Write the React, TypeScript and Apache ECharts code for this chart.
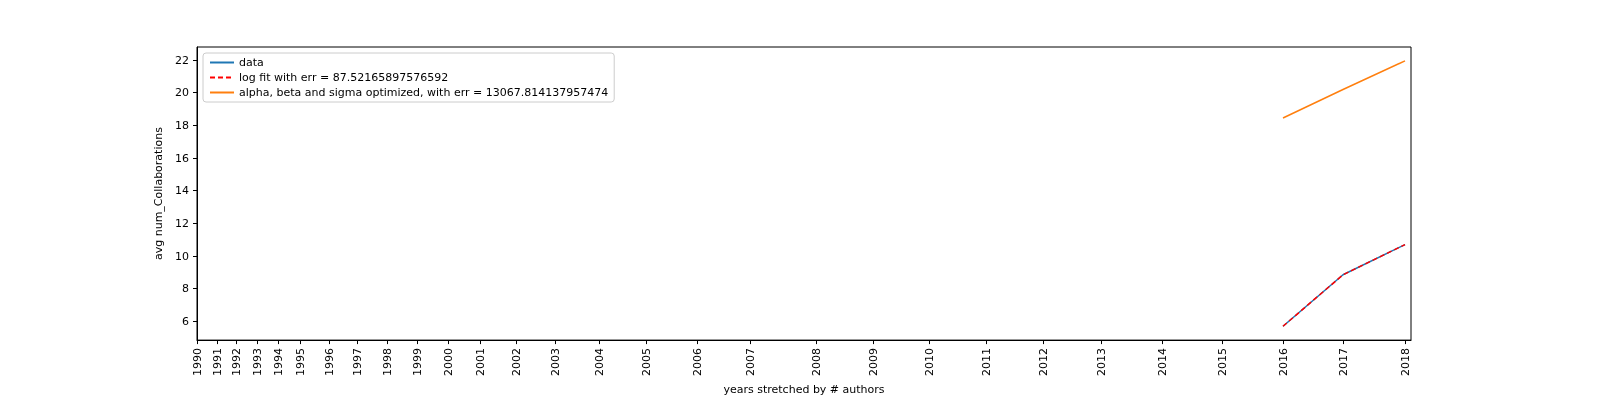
import React, { useEffect, useRef } from "react";
import * as echarts from "echarts";

// stretched x positions of each year tick (years stretched by # authors)
const years = [
  1990, 1991, 1992, 1993, 1994, 1995, 1996, 1997, 1998, 1999, 2000, 2001, 2002, 2003,
  2004, 2005, 2006, 2007, 2008, 2009, 2010, 2011, 2012, 2013, 2014, 2015, 2016, 2017, 2018,
];
const yearPos = [
  197, 217, 236, 257, 278, 300, 329, 357, 387, 417, 448, 480, 516, 555,
  599, 646, 697, 750, 816, 873, 929, 986, 1043, 1101, 1162, 1222, 1283, 1343, 1405,
];
const dataYears = [2016, 2017, 2018];
const dataValues = [5.7, 8.85, 10.7];
const logFitValues = [5.7, 8.85, 10.7];
const optimizedValues = [18.45, 20.2, 21.95];
const yTicks = [6, 8, 10, 12, 14, 16, 18, 20, 22];

const posOf = (y: number) => yearPos[years.indexOf(y)];
const labelOf: Record<number, string> = {};
years.forEach((y, i) => (labelOf[yearPos[i]] = String(y)));

const App: React.FC = () => {
  const ref = useRef<HTMLDivElement>(null);

  useEffect(() => {
    if (!ref.current) return;
    const chart = echarts.init(ref.current, null, { renderer: "svg" });
    const font = "DejaVu Sans";
    chart.setOption({
      animation: false,
      textStyle: { fontFamily: font },
      grid: {
        left: 197,
        right: 189,
        top: 47,
        bottom: 57,
        show: true,
        borderColor: "#000",
        borderWidth: 1,
      },
      legend: {
        orient: "vertical",
        left: 203,
        top: 53,
        itemWidth: 24,
        itemHeight: 8,
        itemGap: 4,
        padding: [4, 6],
        borderColor: "#ccc",
        borderWidth: 1,
        borderRadius: 3,
        itemStyle: { opacity: 0 },
        textStyle: { fontSize: 11, color: "#000", fontFamily: font },
        data: [
          "data",
          "log fit with err = 87.52165897576592",
          "alpha, beta and sigma optimized, with err = 13067.814137957474",
        ],
      },
      xAxis: {
        type: "value",
        min: 197,
        max: 1411,
        name: "years stretched by # authors",
        nameLocation: "middle",
        nameGap: 43,
        nameTextStyle: { fontSize: 11, color: "#000" },
        axisLine: { lineStyle: { color: "#000" } },
        axisTick: { customValues: yearPos, length: 4, lineStyle: { color: "#000" } },
        axisLabel: {
          customValues: yearPos,
          rotate: 90,
          fontSize: 11,
          color: "#000",
          formatter: (v: number) => labelOf[v] ?? "",
        },
        splitLine: { show: false },
      },
      yAxis: {
        type: "value",
        min: 4.85,
        max: 22.8,
        name: "avg num_Collaborations",
        nameLocation: "middle",
        nameGap: 28,
        nameTextStyle: { fontSize: 11, color: "#000" },
        axisLine: { show: true, lineStyle: { color: "#000" } },
        axisTick: { show: true, customValues: yTicks, length: 4, lineStyle: { color: "#000" } },
        axisLabel: { customValues: yTicks, fontSize: 11, color: "#000" },
        splitLine: { show: false },
      },
      series: [
        {
          name: "data",
          type: "line",
          symbol: "none",
          lineStyle: { color: "#1f77b4", width: 1.5 },
          itemStyle: { color: "#1f77b4" },
          data: dataYears.map((y, i) => [posOf(y), dataValues[i]]),
        },
        {
          name: "log fit with err = 87.52165897576592",
          type: "line",
          symbol: "none",
          lineStyle: { color: "red", width: 1.5, type: [5, 3] },
          itemStyle: { color: "red" },
          data: dataYears.map((y, i) => [posOf(y), logFitValues[i]]),
        },
        {
          name: "alpha, beta and sigma optimized, with err = 13067.814137957474",
          type: "line",
          symbol: "none",
          lineStyle: { color: "#ff7f0e", width: 1.5 },
          itemStyle: { color: "#ff7f0e" },
          data: dataYears.map((y, i) => [posOf(y), optimizedValues[i]]),
        },
      ],
    });
    return () => chart.dispose();
  }, []);

  return (
    <div
      ref={ref}
      style={{ position: "fixed", left: 0, top: 0, width: 1600, height: 400 }}
    />
  );
};

export default App;
